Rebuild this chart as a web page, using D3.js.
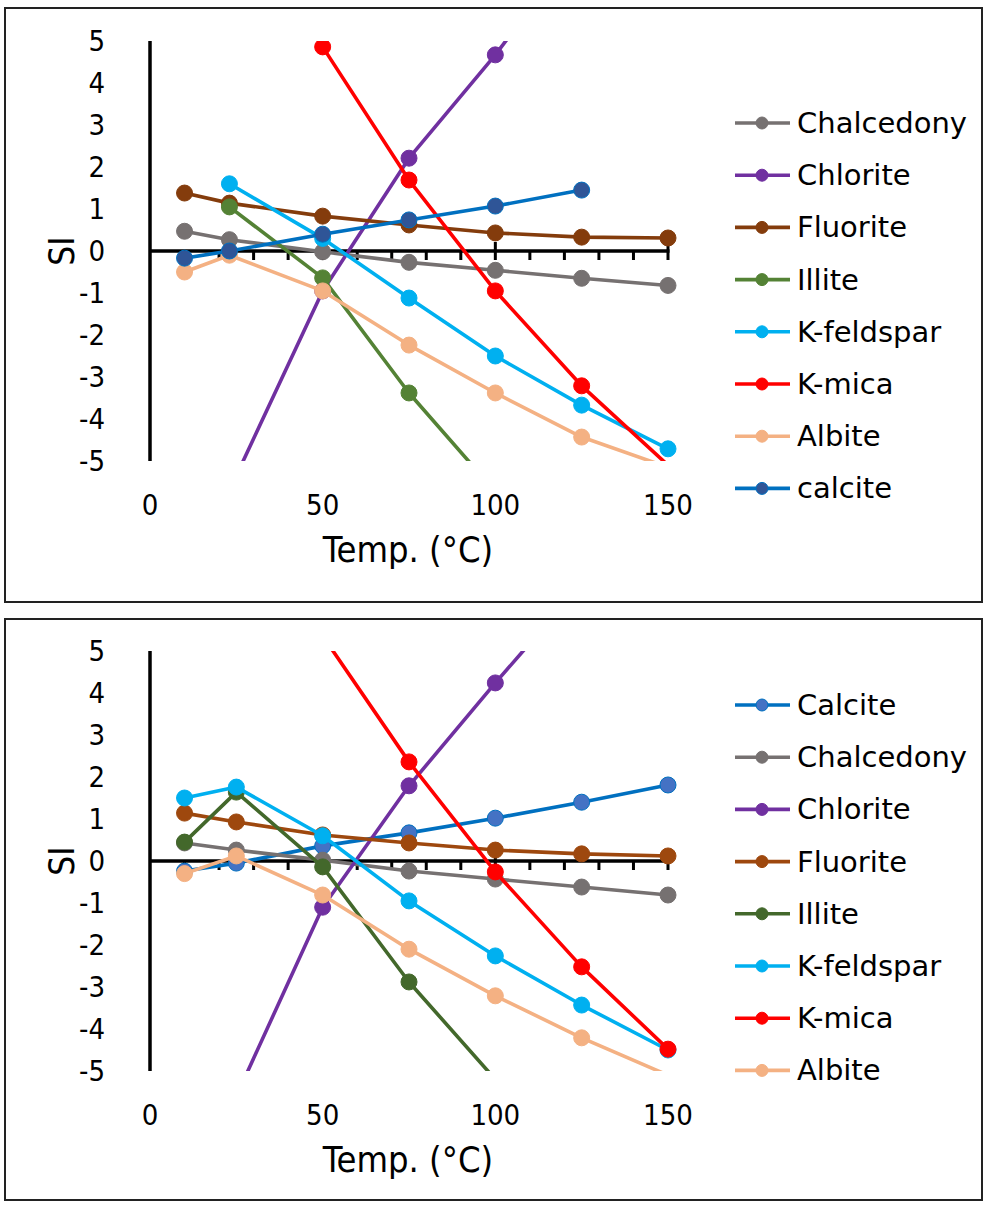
<!DOCTYPE html>
<html>
<head>
<meta charset="utf-8">
<script src="https://cdn.jsdelivr.net/npm/d3@7"></script>
<style>
  html, body { margin: 0; padding: 0; background: #fff; }
  svg { display: block; }
</style>
</head>
<body>
<svg id="chart" width="984" height="1205"></svg>
<script>
// ---------- DATA ----------
const tempsA = [10, 23, 50, 75, 100, 125, 150];
const tempsB = [10, 25, 50, 75, 100, 125, 150];

const xTicks = [0, 50, 100, 150];
const yTicks = [5, 4, 3, 2, 1, 0, -1, -2, -3, -4, -5];
const xLabel = "Temp. (°C)";
const yLabel = "SI";

// Panel A (top)
const namesA = ["Chalcedony", "Chlorite", "Fluorite", "Illite", "K-feldspar", "K-mica", "Albite", "calcite"];
const chalcedonyA = [0.47, 0.27, -0.02, -0.27, -0.46, -0.65, -0.82];
const chloriteA   = [-9.0, -5.7, -0.95, 2.21, 4.67, 7.4, 10.0];
const fluoriteA   = [1.38, 1.14, 0.83, 0.62, 0.43, 0.33, 0.31];
const illiteA     = [null, 1.05, -0.64, -3.38, -5.73, null, null];
const kfeldsparA  = [null, 1.6, 0.3, -1.12, -2.5, -3.67, -4.71];
const kmicaA      = [null, 8.7, 4.86, 1.69, -0.95, -3.21, -5.1];
const albiteA     = [-0.5, -0.1, -0.95, -2.24, -3.38, -4.43, -5.15];
const calciteA    = [-0.17, 0.0, 0.4, 0.74, 1.07, 1.45, null];

// Panel B (bottom)
const namesB = ["Calcite", "Chalcedony", "Chlorite", "Fluorite", "Illite", "K-feldspar", "K-mica", "Albite"];
const calciteB    = [-0.24, -0.05, 0.36, 0.67, 1.02, 1.40, 1.81];
const chalcedonyB = [0.43, 0.26, 0.02, -0.24, -0.43, -0.62, -0.81];
const chloriteB   = [-9.0, -5.6, -1.1, 1.79, 4.24, 6.6, 9.0];
const fluoriteB   = [1.14, 0.93, 0.62, 0.43, 0.26, 0.17, 0.12];
const illiteB     = [0.45, 1.64, -0.14, -2.88, -5.2, null, null];
const kfeldsparB  = [1.5, 1.76, 0.6, -0.95, -2.26, -3.43, -4.5];
const kmicaB      = [null, 8.0, 5.36, 2.36, -0.26, -2.52, -4.48];
const albiteB     = [-0.3, 0.12, -0.81, -2.1, -3.21, -4.21, -5.1];

// ---------- STYLES ----------
const colorsA = {
  "Chalcedony": {line: "#767171", fill: "#767171"},
  "Chlorite":   {line: "#7030A0", fill: "#7030A0"},
  "Fluorite":   {line: "#843C0C", fill: "#843C0C"},
  "Illite":     {line: "#548235", fill: "#548235"},
  "K-feldspar": {line: "#00B0F0", fill: "#00B0F0"},
  "K-mica":     {line: "#FF0000", fill: "#FF0000"},
  "Albite":     {line: "#F4B183", fill: "#F4B183"},
  "calcite":    {line: "#0070C0", fill: "#2F5597"}
};
const colorsB = {
  "Calcite":    {line: "#0070C0", fill: "#4472C4"},
  "Chalcedony": {line: "#767171", fill: "#767171"},
  "Chlorite":   {line: "#7030A0", fill: "#7030A0"},
  "Fluorite":   {line: "#9E480E", fill: "#9E480E"},
  "Illite":     {line: "#43682B", fill: "#43682B"},
  "K-feldspar": {line: "#00B0F0", fill: "#00B0F0"},
  "K-mica":     {line: "#FF0000", fill: "#FF0000"},
  "Albite":     {line: "#F4B183", fill: "#F4B183"}
};

const panels = [
  {
    id: "A", box: [5, 8, 977, 594], y0: 251, legendY: 123,
    temps: tempsA, names: namesA, colors: colorsA,
    values: [chalcedonyA, chloriteA, fluoriteA, illiteA, kfeldsparA, kmicaA, albiteA, calciteA]
  },
  {
    id: "B", box: [5, 619, 977, 581], y0: 861, legendY: 705,
    temps: tempsB, names: namesB, colors: colorsB,
    values: [calciteB, chalcedonyB, chloriteB, fluoriteB, illiteB, kfeldsparB, kmicaB, albiteB]
  }
];

const svg = d3.select("#chart");
const axisFont = "'DejaVu Sans Condensed', 'DejaVu Sans', sans-serif";
const legendFont = "'DejaVu Sans', Verdana, sans-serif";

panels.forEach(p => {
  const g = svg.append("g");
  // outer border
  g.append("rect")
    .attr("x", p.box[0]).attr("y", p.box[1])
    .attr("width", p.box[2]).attr("height", p.box[3])
    .attr("fill", "none").attr("stroke", "#222").attr("stroke-width", 2);

  const x = d3.scaleLinear().domain([0, 150]).range([150, 668]);
  const y = d3.scaleLinear().domain([-5, 5]).range([p.y0 + 210, p.y0 - 210]);

  // clip
  const clipId = "clip" + p.id;
  svg.append("defs").append("clipPath").attr("id", clipId)
    .append("rect").attr("x", 100).attr("y", y(5)).attr("width", 600).attr("height", y(-5) - y(5));

  // y axis line
  g.append("line").attr("x1", x(0)).attr("x2", x(0)).attr("y1", y(5)).attr("y2", y(-5))
    .attr("stroke", "#000").attr("stroke-width", 3.5);
  // x axis line at 0
  g.append("line").attr("x1", x(0)).attr("x2", x(150) + 1.5).attr("y1", y(0)).attr("y2", y(0))
    .attr("stroke", "#000").attr("stroke-width", 3.5);
  // ticks
  const minor = d3.range(10, 151, 10).filter(t => t % 50 !== 0);
  g.selectAll(".mt").data(minor).enter().append("line")
    .attr("x1", d => x(d)).attr("x2", d => x(d))
    .attr("y1", y(0)).attr("y2", y(0) + 9)
    .attr("stroke", "#000").attr("stroke-width", 3);
  g.selectAll(".Mt").data(xTicks.filter(t => t > 0)).enter().append("line")
    .attr("x1", d => x(d)).attr("x2", d => x(d))
    .attr("y1", y(0) - 9).attr("y2", y(0) + 9)
    .attr("stroke", "#000").attr("stroke-width", 3);

  // tick labels
  g.selectAll(".xl").data(xTicks).enter().append("text")
    .attr("x", d => x(d)).attr("y", p.y0 + 254)
    .attr("text-anchor", "middle").attr("dominant-baseline", "central")
    .style("font-family", axisFont).style("font-size", "29px").attr("fill", "#000")
    .text(d => d);
  g.selectAll(".yl").data(yTicks).enter().append("text")
    .attr("x", 105).attr("y", d => y(d))
    .attr("text-anchor", "end").attr("dominant-baseline", "central")
    .style("font-family", axisFont).style("font-size", "29px").attr("fill", "#000")
    .text(d => d);

  // axis titles
  g.append("text").attr("x", 408).attr("y", p.y0 + 298)
    .attr("text-anchor", "middle").attr("dominant-baseline", "central")
    .style("font-family", axisFont).style("font-size", "36px").attr("fill", "#000")
    .text(xLabel);
  g.append("text").attr("transform", `translate(62,${p.y0}) rotate(-90)`)
    .attr("text-anchor", "middle").attr("dominant-baseline", "central")
    .style("font-family", axisFont).style("font-size", "35px").attr("fill", "#000")
    .text(yLabel);

  // series
  const plot = g.append("g").attr("clip-path", `url(#${clipId})`);
  const line = d3.line()
    .defined(d => d.v !== null)
    .x(d => x(d.t)).y(d => y(d.v));
  p.names.forEach((name, i) => {
    const pts = p.temps.map((t, j) => ({t: t, v: p.values[i][j]}));
    const c = p.colors[name];
    plot.append("path").datum(pts)
      .attr("d", line).attr("fill", "none")
      .attr("stroke", c.line).attr("stroke-width", 3.6)
      .attr("stroke-linejoin", "round");
    plot.selectAll(null).data(pts.filter(d => d.v !== null && d.v <= 5 && d.v >= -5)).enter()
      .append("circle")
      .attr("cx", d => x(d.t)).attr("cy", d => y(d.v)).attr("r", 8)
      .attr("fill", c.fill).attr("stroke", c.line).attr("stroke-width", 1);
  });

  // legend
  const lg = g.append("g");
  p.names.forEach((name, i) => {
    const ly = p.legendY + i * 52.2;
    const c = p.colors[name];
    lg.append("line").attr("x1", 735).attr("x2", 790).attr("y1", ly).attr("y2", ly)
      .attr("stroke", c.line).attr("stroke-width", 3.6);
    lg.append("circle").attr("cx", 762).attr("cy", ly).attr("r", 6)
      .attr("fill", c.fill).attr("stroke", c.line).attr("stroke-width", 1);
    lg.append("text").attr("x", 797).attr("y", ly)
      .attr("dominant-baseline", "central")
      .style("font-family", legendFont).style("font-size", "29px").attr("fill", "#000")
      .text(name);
  });
});
</script>
</body>
</html>
